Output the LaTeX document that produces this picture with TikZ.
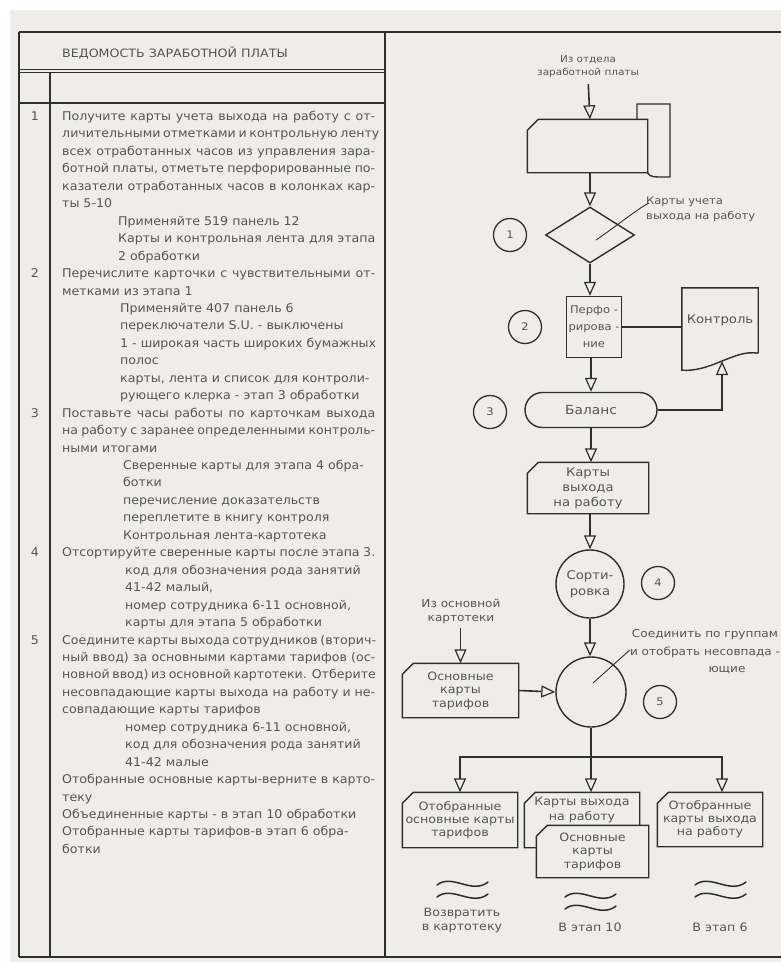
\documentclass[tikz,border=0pt]{standalone}
\usepackage{fontspec}
\newfontfamily\bodyfont[FakeStretch=1.1]{DejaVu Sans}
\newfontfamily\colfont[FakeStretch=1.05]{DejaVu Sans}
\newcommand\fsz[2]{\bodyfont\fontsize{#1}{#2}\selectfont}
\usetikzlibrary{arrows.meta,shapes.geometric,shapes.misc,calc}
\definecolor{paper}{HTML}{EEEDE9}
\definecolor{ink}{HTML}{2E2E2E}
\definecolor{txtc}{HTML}{555555}

% punched card: rectangle with the upper left corner cut off
\makeatletter
\pgfdeclareshape{card}{%
  \inheritsavedanchors[from=rectangle]%
  \inheritanchorborder[from=rectangle]%
  \inheritanchor[from=rectangle]{center}%
  \inheritanchor[from=rectangle]{north}%
  \inheritanchor[from=rectangle]{south}%
  \inheritanchor[from=rectangle]{east}%
  \inheritanchor[from=rectangle]{west}%
  \inheritanchor[from=rectangle]{north east}%
  \inheritanchor[from=rectangle]{north west}%
  \inheritanchor[from=rectangle]{south east}%
  \inheritanchor[from=rectangle]{south west}%
  \inheritanchor[from=rectangle]{mid}%
  \inheritanchor[from=rectangle]{base}%
  \backgroundpath{%
    \southwest \pgf@xa=\pgf@x \pgf@ya=\pgf@y
    \northeast \pgf@xb=\pgf@x \pgf@yb=\pgf@y
    \pgf@xc=\pgf@xa \advance\pgf@xc by 11pt
    \pgf@yc=\pgf@yb \advance\pgf@yc by -11pt
    \pgfpathmoveto{\pgfqpoint{\pgf@xa}{\pgf@ya}}%
    \pgfpathlineto{\pgfqpoint{\pgf@xa}{\pgf@yc}}%
    \pgfpathlineto{\pgfqpoint{\pgf@xc}{\pgf@yb}}%
    \pgfpathlineto{\pgfqpoint{\pgf@xb}{\pgf@yb}}%
    \pgfpathlineto{\pgfqpoint{\pgf@xb}{\pgf@ya}}%
    \pgfpathclose
  }%
}
\makeatother

% text lines of the instruction column: full (justified) and free lines
\newcommand\fline[2]{\node[txt] (L#1) at (62,{120.5+17.45*#1}) {\makebox[313pt][s]{#2}};}
\newcommand\sline[3]{\node[txt] (L#1) at (#2,{120.5+17.45*#1}) {#3};}
\newcommand\wavy[3]{%
  \draw[wave] ({#2-25},{#3+2}) .. controls ({#2-10},{#3-10}) and ({#2+10},{#3+12}) .. ({#2+26},{#3-1});
  \draw[wave] ({#2-25},{#3+14}) .. controls ({#2-10},{#3+2}) and ({#2+10},{#3+24}) .. ({#2+26},{#3+11});}

\begin{document}
\begin{tikzpicture}[x=1pt,y=-1pt,
  txt/.style={font=\colfont\fontsize{12}{14}\selectfont, text=txtc, inner sep=0pt, anchor=base west},
  ftxt/.style={font=\fsz{11.5}{13.5}, text=txtc, align=center, inner sep=0pt},
  rule/.style={draw=ink, line width=1.5pt},
  flow/.style={draw=ink, line width=1.6pt},
  shp/.style={draw=ink, line width=1.4pt},
  lead/.style={draw=ink, line width=0.9pt},
  wave/.style={draw=ink, line width=1.5pt, line cap=round},
  tip/.tip={Triangle[open,length=14pt,width=12pt,line width=1.2pt]},
  arr/.style={flow, -tip},
  arrboth/.style={flow, tip-tip},
  card/.style={shape=card, shp, fill=paper, inner sep=0pt, ftxt},
  numc/.style={circle, shp, line width=1.3pt, minimum size=33pt, inner sep=0pt, ftxt, font=\fsz{10.5}{12}},
]
\useasboundingbox (0,0) rectangle (781,962);
\fill[white] (0,0) rectangle (781,962);
\fill[paper] (10,10) rectangle (781,962);

% ---------- table frame ----------
\draw[rule] (19,32) -- (781,32);
\draw[rule] (19,957) -- (781,957);
\draw[rule] (19,32) -- (19,957);
\draw[rule] (385,32) -- (385,957);
\draw[rule] (19,69.5) -- (385,69.5);
\draw[rule, line width=1pt] (19,72.5) -- (385,72.5);
\draw[rule] (19,103) -- (385,103);
\draw[rule] (50,72.5) -- (50,957);

\node[txt, font=\fsz{11.5}{14}] (hdr) at (62,57) {ВЕДОМОСТЬ ЗАРАБОТНОЙ ПЛАТЫ};

% step numbers
\node[txt, anchor=base] (R1) at (35,{120.5+17.45*0}) {1};
\node[txt, anchor=base] (R2) at (35,{120.5+17.45*9}) {2};
\node[txt, anchor=base] (R3) at (35,{120.5+17.45*17}) {3};
\node[txt, anchor=base] (R4) at (35,{120.5+17.45*25}) {4};
\node[txt, anchor=base] (R5) at (35,{120.5+17.45*30}) {5};

% step texts
\fline{0}{Получите карты учета выхода на работу с от-}
\fline{1}{личительными отметками и контрольную ленту}
\fline{2}{всех отработанных часов из управления зара-}
\fline{3}{ботной платы, отметьте перфорированные по-}
\fline{4}{казатели отработанных часов в колонках кар-}
\sline{5}{62}{ты 5-10}
\sline{6}{118}{Применяйте 519 панель 12}
\sline{7}{118}{Карты и контрольная лента для этапа}
\sline{8}{118}{2 обработки}
\fline{9}{Перечислите карточки с чувствительными от-}
\sline{10}{62}{метками из этапа 1}
\sline{11}{120}{Применяйте 407 панель 6}
\sline{12}{120}{переключатели S.U. - выключены}
\sline{13}{120}{1 - широкая часть широких бумажных}
\sline{14}{120}{полос}
\sline{15}{120}{карты, лента и список для контроли-}
\sline{16}{120}{рующего клерка - этап 3 обработки}
\fline{17}{Поставьте часы работы по карточкам выхода}
\fline{18}{на работу с заранее определенными контроль-}
\sline{19}{62}{ными итогами}
\sline{20}{123}{Сверенные карты для этапа 4 обра-}
\sline{21}{123}{ботки}
\sline{22}{123}{перечисление доказательств}
\sline{23}{123}{переплетите в книгу контроля}
\sline{24}{123}{Контрольная лента-картотека}
\fline{25}{Отсортируйте сверенные карты после этапа 3.}
\sline{26}{125}{код для обозначения рода занятий}
\sline{27}{125}{41-42 малый,}
\sline{28}{125}{номер сотрудника 6-11 основной,}
\sline{29}{125}{карты для этапа 5 обработки}
\fline{30}{Соедините карты выхода сотрудников (вторич-}
\fline{31}{ный ввод) за основными картами тарифов (ос-}
\fline{32}{новной ввод) из основной картотеки. Отберите}
\fline{33}{несовпадающие карты выхода на работу и не-}
\sline{34}{62}{совпадающие карты тарифов}
\sline{35}{125}{номер сотрудника 6-11 основной,}
\sline{36}{125}{код для обозначения рода занятий}
\sline{37}{125}{41-42 малые}
\fline{38}{Отобранные основные карты-верните в карто-}
\sline{39}{62}{теку}
\sline{40}{62}{Объединенные карты - в этап 10 обработки}
\sline{41}{62}{Отобранные карты тарифов-в этап 6 обра-}
\sline{42}{62}{ботки}

% ---------- flowchart ----------
\node[ftxt, font=\fsz{9.5}{13}] (src1) at (588,67) {Из отдела\\заработной платы};

% card reader: hopper behind the card
\draw[shp] (637,140) -- (637,104) -- (670,104) -- (670,177) -- (658,177)
  .. controls (651,177) and (647,175) .. (647,170);
\node[card, minimum width=119pt, minimum height=52pt] (reader) at (587.5,146) {};

\node[diamond, shp, minimum width=89pt, minimum height=56pt, inner sep=0pt] (dec) at (590,235) {};
\node[ftxt, font=\fsz{10.5}{15}, align=left, anchor=west] (declab) at (646,209) {Карты учета\\выхода на работу};
\node[numc] (n1) at (510,235) {1};

\node[rectangle, shp, fill=paper, minimum width=55pt, minimum height=61pt, inner sep=0pt,
      ftxt, font=\fsz{10.5}{17}] (perf) at (594,327) {Перфо -\\рирова -\\ние};
\node[numc] (n2) at (525,327) {2};

\node[ftxt, font=\fsz{12}{14}, minimum width=76pt, minimum height=65pt] (ctrl) at (720,320.5) {Контроль};
\coordinate (ctrltip) at (722,361);
\draw[shp] (ctrl.south east) -- (ctrl.north east) -- (ctrl.north west) -- ($(ctrl.south west)+(0,17)$)
  .. controls +(13,1) and +(-14,6) .. (ctrltip)
  .. controls +(13,-5) and +(-13,-2) .. (ctrl.south east);

\node[rounded rectangle, shp, minimum width=132pt, minimum height=35pt, inner sep=0pt, ftxt, font=\fsz{12.5}{14}] (bal) at (591,410) {Баланс};
\node[numc] (n3) at (490,412) {3};

\node[card, minimum width=120pt, minimum height=50pt, font=\fsz{12}{15}] (wcard) at (588,488) {Карты\\выхода\\на работу};

\node[circle, shp, minimum size=68pt, inner sep=0pt, ftxt, font=\fsz{12}{16}] (srt) at (590,584) {Сорти-\\ровка};
\node[numc] (n4) at (658,583) {4};

\node[circle, shp, minimum size=70pt, inner sep=0pt] (mrg) at (591,692) {};
\node[ftxt, font=\fsz{11}{17.5}] (mrglab) at (705,652) {Соединить по группам\\и отобрать несовпада -\\\hspace*{44pt}ющие};
\node[numc] (n5) at (660,702) {5};

\node[ftxt, font=\fsz{11}{14}] (src2) at (461,611) {Из основной\\картотеки};
\node[card, minimum width=115pt, minimum height=53pt] (tar) at (460.5,690.5) {Основные\\карты\\тарифов};

% output cards
\node[card, minimum width=114pt, minimum height=54pt, font=\fsz{11.5}{12.8}] (o1) at (460,820) {Отобранные\\основные карты\\тарифов};
\node[card, minimum width=114pt, minimum height=54pt] (o2) at (582,820) {};
\node[ftxt, font=\fsz{11.5}{15}] (o2t) at (582,810) {Карты выхода\\на работу};
\node[card, minimum width=111pt, minimum height=51pt] (o2b) at (592.5,851.5) {Основные\\карты\\тарифов};
\node[card, minimum width=104pt, minimum height=53pt, font=\fsz{11.5}{12.8}] (o3) at (710,819.5) {Отобранные\\карты выхода\\на работу};

\coordinate (busL) at (460,757);
\coordinate (busM) at (591,757);
\coordinate (busR) at (722,757);

% connectors
\draw[arr, shorten <=6pt] (src1.south) -- (reader.north -| dec.north);
\draw[arr] (dec.north |- reader.south) -- (dec.north);
\draw[lead] ($(dec.center)+(6,5)$) .. controls +(18,-12) and +(-12,6) .. ($(declab.west)+(3,-6)$);
\draw[arr] (dec.south) -- (dec.south |- perf.north);
\draw[flow] (perf.east) -- (perf.east -| ctrl.west);
\draw[arr] (bal.north |- perf.south) -- (bal.north);
\draw[arr] (bal.east) -| (ctrltip);
\draw[arr] (bal.south) -- (bal.south |- wcard.north);
\draw[arr] (srt.north |- wcard.south) -- (srt.north);
\draw[arr] (srt.south) -- (srt.south |- mrg.north);
\draw[lead] ($(mrg.center)+(2,-9)$) -- ($(mrglab.west)+(0,-2)$);
\draw[arr, shorten <=4pt] (src2.south -| tar.north) -- (tar.north);
\draw[arr] (tar.east) -- (mrg.west);
\draw[flow] (mrg.south) -- (busM);
\draw[arrboth] (busL |- o1.north) -- (busL) -- (busR) -- (busR |- o3.north);
\draw[arr] (busM) -- (busM |- o2.north);

% destinations
\wavy{w1}{462}{883}
\wavy{w2}{590}{895}
\wavy{w3}{720}{883}
\node[ftxt, font=\fsz{11.5}{14}] (d1) at (462,920) {Возвратить\\в картотеку};
\node[ftxt, font=\fsz{11.5}{14}] (d2) at (590,927) {В этап 10};
\node[ftxt, font=\fsz{11.5}{14}] (d3) at (720,927) {В этап 6};
\end{tikzpicture}
\end{document}
